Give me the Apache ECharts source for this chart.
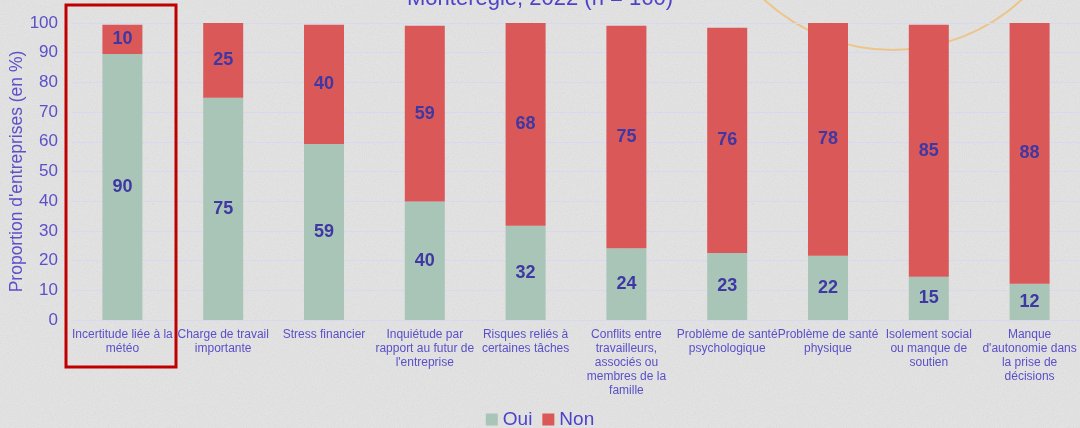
<!DOCTYPE html>
<html>
<head>
<meta charset="utf-8">
<script src="https://cdn.jsdelivr.net/npm/echarts@6/dist/echarts.min.js"></script>
<style>
  html, body { margin: 0; padding: 0; }
  body {
    width: 1080px; height: 428px; overflow: hidden;
    background-color: #e4e4e4;
    background-image: url("data:image/svg+xml;utf8,<svg xmlns='http://www.w3.org/2000/svg' width='300' height='300'><filter id='n'><feTurbulence type='fractalNoise' baseFrequency='0.9' numOctaves='3' stitchTiles='stitch'/><feColorMatrix type='saturate' values='0'/></filter><rect width='300' height='300' filter='url(%23n)' opacity='0.18'/></svg>");
  }
  #chart { width: 1080px; height: 428px; }
</style>
</head>
<body>
<div id="chart"></div>
<script>
// categories (line breaks as in the picture)
const categories = [
  "Incertitude liée à la\nmétéo",
  "Charge de travail\nimportante",
  "Stress financier",
  "Inquiétude par\nrapport au futur de\nl'entreprise",
  "Risques reliés à\ncertaines tâches",
  "Conflits entre\ntravailleurs,\nassociés ou\nmembres de la\nfamille",
  "Problème de santé\npsychologique",
  "Problème de santé\nphysique",
  "Isolement social\nou manque de\nsoutien",
  "Manque\nd'autonomie dans\nla prise de\ndécisions"
];
const oui = [89.6, 74.8, 59.3, 39.9, 31.7, 24.2, 22.6, 21.6, 14.6, 12.2];
const non = [9.8, 25.2, 40.1, 59.2, 68.3, 74.9, 75.8, 78.4, 84.8, 87.8];
const yTicks = { min: 0, max: 100, interval: 10 };

const textBlue = "#5a50c8";
const labelBlue = "#3f37a3";

const chart = echarts.init(document.getElementById("chart"), null, { renderer: "canvas" });

const barLabel = {
  show: true,
  position: "inside",
  color: labelBlue,
  fontWeight: "bold",
  fontSize: 18,
  fontFamily: "Liberation Sans",
  formatter: p => Math.round(p.value)
};

chart.setOption({
  backgroundColor: "transparent",
  title: {
    text: "Montérégie, 2022 (n = 160)",
    left: "center",
    top: -17,
    textStyle: { color: "#4d43c8", fontSize: 22, fontWeight: "normal", fontFamily: "Liberation Sans" }
  },
  legend: {
    bottom: -6,
    left: "center",
    itemWidth: 12,
    itemHeight: 12,
    itemGap: 10,
    icon: "rect",
    textStyle: { color: "#4d43c8", fontSize: 19, fontFamily: "Liberation Sans" },
    data: ["Oui", "Non"]
  },
  grid: { left: 72, right: 0, top: 23, bottom: 108, outerBoundsMode: "none", containLabel: false },
  xAxis: {
    type: "category",
    data: categories,
    axisLine: { lineStyle: { color: "#d8d8f0" } },
    axisTick: { show: false },
    axisLabel: {
      interval: 0,
      color: textBlue,
      fontSize: 12,
      lineHeight: 14,
      fontFamily: "Liberation Sans",
      margin: 8
    }
  },
  yAxis: {
    type: "value",
    min: yTicks.min,
    max: yTicks.max,
    interval: yTicks.interval,
    name: "Proportion d'entreprises (en %)",
    nameLocation: "middle",
    nameGap: 46,
    nameMoveOverlap: false,
    nameTextStyle: { color: textBlue, fontSize: 17.5, fontFamily: "Liberation Sans" },
    axisLabel: { color: textBlue, fontSize: 17, fontFamily: "Liberation Sans", margin: 14 },
    axisLine: { show: false },
    axisTick: { show: false },
    splitLine: { lineStyle: { color: "#d8d8f0", width: 1 } }
  },
  graphic: [
    {
      type: "circle",
      z: -10,
      shape: { cx: 893, cy: -140, r: 190 },
      style: { fill: "none", stroke: "#efbf78", lineWidth: 2, opacity: 0.85 }
    },
    {
      type: "rect",
      z: 100,
      shape: { x: 66, y: 5, width: 110, height: 362 },
      style: { fill: "none", stroke: "#c00000", lineWidth: 3 }
    }
  ],
  series: [
    {
      name: "Oui",
      type: "bar",
      stack: "total",
      barWidth: 40,
      itemStyle: { color: "#a9c5b7" },
      label: barLabel,
      data: oui
    },
    {
      name: "Non",
      type: "bar",
      stack: "total",
      barWidth: 40,
      itemStyle: { color: "#da5858" },
      label: barLabel,
      data: non
    }
  ]
});
</script>
</body>
</html>
